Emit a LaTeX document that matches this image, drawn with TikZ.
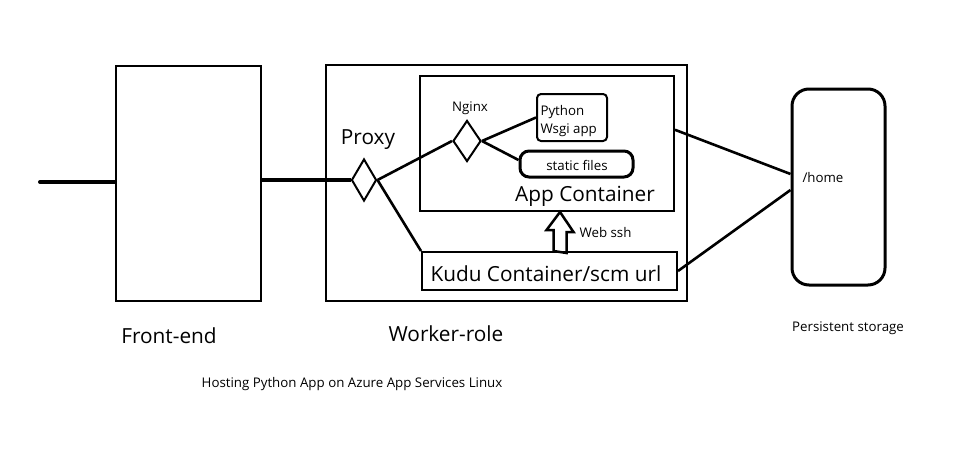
\documentclass[tikz,border=0pt]{standalone}
\usepackage{fontspec}
\setmainfont{Open Sans}
\usetikzlibrary{calc,shapes.geometric}

\tikzset{
  box/.style={draw=black,line width=2pt,inner sep=0pt},
  rbox/.style={draw=black,line width=3pt,inner sep=0pt},
  gate/.style={diamond,draw=black,line width=2pt,inner sep=0pt},
  heavy/.style={line width=4pt},
  wire/.style={line width=2.6pt},
  big/.style={font=\fontsize{20.8}{24}\selectfont},
  small/.style={font=\fontsize{13.3}{18}\selectfont},
}

\begin{document}
\begin{tikzpicture}[x=1pt,y=-1pt]
\useasboundingbox (0,0) rectangle (958,460);

% outer boxes
\node[box,minimum width=145,minimum height=235] (frontend) at (188.5,183.5) {};
\node[box,minimum width=361,minimum height=236] (worker) at (506.5,183) {};
\node[box,minimum width=254,minimum height=135] (app) at (547,143.5) {};
\node[box,minimum width=255,minimum height=38] (kudu) at (549.5,271) {};
\node[rbox,rounded corners=17,minimum width=93,minimum height=196] (storage) at (838.5,187) {};

% inside the app container
\node[box,rounded corners=4,minimum width=70,minimum height=47] (python) at (572,117.5) {};
\node[rbox,rounded corners=9,minimum width=113,minimum height=26] (static) at (576.5,164) {};
\node[gate,minimum width=25,minimum height=42] (proxy) at (364,180) {};
\node[gate,minimum width=28,minimum height=41] (nginx) at (467,141) {};

% texts
\node[big] at (169,336) {Front-end};
\node[big] at (446,334) {Worker-role};
\node[big] at (368,140) {Proxy};
\node[big] at (585,196) {App Container};
\node[big,anchor=west] at (427,274) {Kudu Container/scm url};
\node[small] at (470,108) {Nginx};
\node[small,anchor=west,align=left] at (537,121) {Python\\Wsgi app};
\node[small] at (577,165) {static files};
\node[small,anchor=west] at (576,233) {Web ssh};
\node[small,anchor=west] at (799,178) {/home};
\node[small] at (848,328) {Persistent storage};
\node[small] at (352,384) {Hosting Python App on Azure App Services Linux};

% connectors
\coordinate (in) at (40,182);
\draw[heavy,line cap=round] (in) -- (in -| frontend.west);
\draw[heavy] (frontend.east |- proxy) -- (proxy.west);
\draw[wire] (proxy.east) -- (nginx.west);
\draw[wire] (proxy.east) -- (kudu.north west);
\draw[wire] (nginx.east) -- (python.west);
\draw[wire] (nginx.east) -- ($(static.west)+(0,-4)$);
\draw[wire] ($(app.north east)!0.4!(app.south east)$) -- ($(storage.west)+(0,-13)$);
\draw[wire] (kudu.east) -- ($(storage.west)+(0,3)$);

% web ssh arrow
\coordinate (sshbase) at (kudu.north -| 560,0);
\draw[line width=2.5pt,line join=miter] (sshbase) ++(-6.5,0) -- ++(0,-21) -- ++(-7,0)
  -- (sshbase |- app.south) -- ++(13.5,20) -- ++(-7,0) -- ++(0,21) -- cycle;

\end{tikzpicture}
\end{document}
